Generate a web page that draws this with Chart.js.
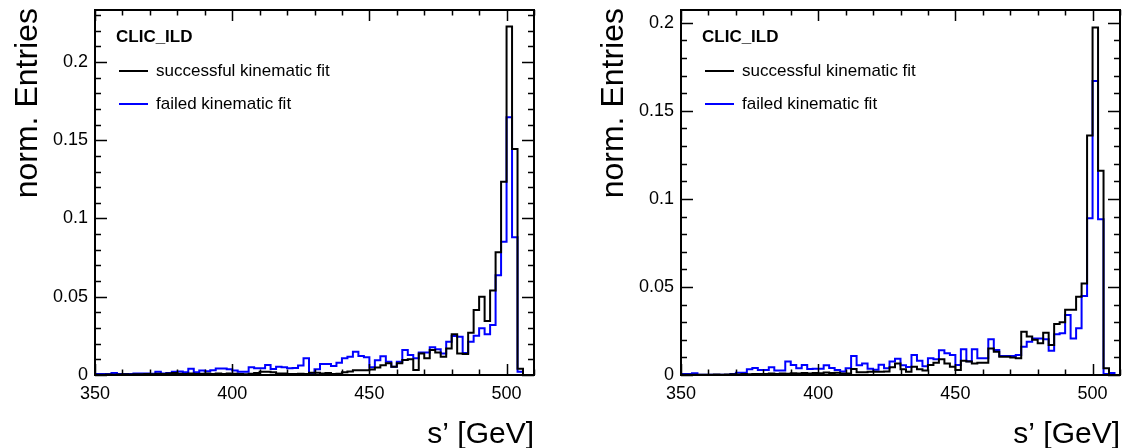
<!DOCTYPE html>
<html>
<head>
<meta charset="UTF-8" />
<title>s' distributions • CLIC_ILD</title>
<script src="https://cdn.jsdelivr.net/npm/chart.js@4"></script>
<style>
  body { margin: 0; background: #fff; }
  .panel { position: absolute; top: 0; width: 562px; height: 448px; }
</style>
</head>
<body>
<div class="panel" style="left:0"><canvas id="left" width="562" height="448"></canvas></div>
<div class="panel" style="left:562px"><canvas id="right" width="562" height="448"></canvas></div>

<script>
// binning: 80 bins of 2 GeV from 350 to 510
const xMin = 350, xMax = 510, binWidth = 2;
const xTicks = [350, 400, 450, 500];
const yTicks = [0, 0.05, 0.1, 0.15, 0.2];
const seriesNames = ['successful kinematic fit', 'failed kinematic fit'];
const seriesColors = ['#000000', '#0000ff'];

const leftSuccessful = [
  0.0002, 0.0002, 0.0003, 0.0002, 0.0003, 0.0004, 0.0003, 0.0005, 0.0004, 0.0006,
  0.0005, 0.0008, 0.0006, 0.0010, 0.0012, 0.0008, 0.0007, 0.0009, 0.0006, 0.0008,
  0.0010, 0.0007, 0.0009, 0.0006, 0.0010, 0.0008, 0.0006, 0.0005, 0.0008, 0.0012,
  0.0020, 0.0020, 0.0017, 0.0010, 0.0010, 0.0006, 0.0006, 0.0008, 0.0006, 0.0015,
  0.0015, 0.0010, 0.0012, 0.0006, 0.0008, 0.0018, 0.0022, 0.0030, 0.0030, 0.0030,
  0.0035, 0.0048, 0.0062, 0.0075, 0.0053, 0.0075, 0.0096, 0.0100, 0.0032, 0.0138,
  0.0107, 0.0160, 0.0143, 0.0117, 0.0170, 0.0260, 0.0138, 0.0134, 0.0270, 0.0415,
  0.0500, 0.0345, 0.0540, 0.0784, 0.1235, 0.2226, 0.1444, 0.0040, 0, 0
];
const leftFailed = [
  0.0006, 0.0006, 0.0006, 0.0013, 0.0006, 0.0006, 0.0006, 0.0010, 0.0010, 0.0010,
  0.0008, 0.0020, 0.0010, 0.0013, 0.0020, 0.0022, 0.0018, 0.0040, 0.0018, 0.0028,
  0.0024, 0.0030, 0.0042, 0.0042, 0.0036, 0.0028, 0.0020, 0.0021, 0.0049, 0.0043,
  0.0043, 0.0064, 0.0038, 0.0053, 0.0049, 0.0043, 0.0045, 0.0060, 0.0107, 0.0012,
  0.0036, 0.0070, 0.0070, 0.0058, 0.0079, 0.0107, 0.0117, 0.0149, 0.0121, 0.0113,
  0.0050, 0.0095, 0.0120, 0.0085, 0.0053, 0.0085, 0.0160, 0.0128, 0.0107, 0.0143,
  0.0143, 0.0177, 0.0164, 0.0138, 0.0213, 0.0249, 0.0245, 0.0140, 0.0213, 0.0250,
  0.0298, 0.0260, 0.0320, 0.0637, 0.0852, 0.1646, 0.0880, 0.0020, 0, 0
];
const rightSuccessful = [
  0.0002, 0.0001, 0.0002, 0.0001, 0.0002, 0.0002, 0.0003, 0.0002, 0.0003, 0.0004,
  0.0003, 0.0005, 0.0004, 0.0006, 0.0005, 0.0006, 0.0008, 0.0006, 0.0009, 0.0007,
  0.0010, 0.0008, 0.0012, 0.0009, 0.0012, 0.0010, 0.0014, 0.0011, 0.0013, 0.0009,
  0.0008, 0.0034, 0.0015, 0.0015, 0.0019, 0.0019, 0.0019, 0.0020, 0.0044, 0.0066,
  0.0032, 0.0019, 0.0047, 0.0032, 0.0025, 0.0057, 0.0070, 0.0089, 0.0066, 0.0047,
  0.0028, 0.0081, 0.0076, 0.0066, 0.0070, 0.0070, 0.0151, 0.0132, 0.0104, 0.0104,
  0.0100, 0.0095, 0.0246, 0.0218, 0.0200, 0.0180, 0.0240, 0.0170, 0.0290, 0.0300,
  0.0370, 0.0370, 0.0445, 0.0520, 0.1360, 0.1974, 0.1160, 0.0038, 0, 0
];
const rightFailed = [
  0.0006, 0.0006, 0.0010, 0.0002, 0.0002, 0.0002, 0.0002, 0.0002, 0.0002, 0.0006,
  0.0013, 0.0013, 0.0032, 0.0040, 0.0028, 0.0028, 0.0044, 0.0025, 0.0025, 0.0076,
  0.0057, 0.0038, 0.0057, 0.0034, 0.0036, 0.0036, 0.0055, 0.0040, 0.0028, 0.0020,
  0.0038, 0.0108, 0.0055, 0.0066, 0.0035, 0.0030, 0.0058, 0.0038, 0.0076, 0.0092,
  0.0055, 0.0045, 0.0114, 0.0081, 0.0050, 0.0095, 0.0090, 0.0140, 0.0123, 0.0114,
  0.0057, 0.0146, 0.0078, 0.0146, 0.0095, 0.0095, 0.0203, 0.0142, 0.0108, 0.0108,
  0.0108, 0.0114, 0.0161, 0.0189, 0.0208, 0.0208, 0.0203, 0.0138, 0.0231, 0.0237,
  0.0341, 0.0208, 0.0265, 0.0449, 0.0890, 0.1670, 0.0884, 0.0005, 0.0012, 0
];

const FONT = '"Liberation Sans", Arial, Helvetica, sans-serif';

// points at the low edge of every bin, plus the upper edge of the last one
function histPoints(values) {
  const pts = values.map((v, i) => ({ x: xMin + i * binWidth, y: v }));
  pts.push({ x: xMin + values.length * binWidth, y: values[values.length - 1] });
  return pts;
}

// ROOT-like frame: inward ticks on all four sides, legend and axis titles
const rootStyle = {
  id: 'rootStyle',
  afterDraw(chart, args, opts) {
    const { ctx, chartArea: a, scales: { x, y } } = chart;
    ctx.save();
    ctx.strokeStyle = '#000';
    ctx.lineWidth = 1.5;
    ctx.beginPath();
    for (let v = xMin; v <= xMax; v += 10) {
      const px = Math.round(x.getPixelForValue(v)) + 0.5;
      const len = v % 50 === 0 ? 11 : 5.5;
      ctx.moveTo(px, a.bottom); ctx.lineTo(px, a.bottom - len);
      ctx.moveTo(px, a.top); ctx.lineTo(px, a.top + len);
    }
    for (let k = 0; k * 0.01 <= y.max + 1e-9; k++) {
      const py = Math.round(y.getPixelForValue(k * 0.01)) + 0.5;
      const len = k % 5 === 0 ? 12 : 6;
      ctx.moveTo(a.left, py); ctx.lineTo(a.left + len, py);
      ctx.moveTo(a.right, py); ctx.lineTo(a.right - len, py);
    }
    ctx.stroke();

    ctx.lineWidth = 2;
    ctx.strokeRect(a.left, a.top, a.right - a.left, a.bottom - a.top);

    // legend
    ctx.fillStyle = '#000';
    ctx.textBaseline = 'middle';
    ctx.textAlign = 'left';
    ctx.font = 'bold 17px ' + FONT;
    ctx.fillText('CLIC_ILD', a.left + 21, 37);
    ctx.font = '17px ' + FONT;
    seriesNames.forEach((name, i) => {
      const ly = 71 + i * 33;
      ctx.strokeStyle = seriesColors[i];
      ctx.lineWidth = 2;
      ctx.beginPath();
      ctx.moveTo(a.left + 24, ly); ctx.lineTo(a.left + 53, ly);
      ctx.stroke();
      ctx.fillText(name, a.left + 61, ly);
    });

    // axis titles
    ctx.font = '30px ' + FONT;
    ctx.textAlign = 'right';
    ctx.textBaseline = 'alphabetic';
    ctx.fillText('s\u2019 [GeV]', a.right, 443);
    ctx.font = '32px ' + FONT;
    ctx.translate(opts.yTitleX, a.top - 2);
    ctx.rotate(-Math.PI / 2);
    ctx.textBaseline = 'middle';
    ctx.fillText('norm. Entries', 0, 0);
    ctx.restore();
  }
};

function makePanel(id, successful, failed, yMax, yAxisWidth, padRight, yTitleX) {
  return new Chart(id, {
    type: 'line',
    data: {
      datasets: [
        { data: histPoints(successful), borderColor: seriesColors[0] },
        { data: histPoints(failed), borderColor: seriesColors[1] }
      ]
    },
    plugins: [rootStyle],
    options: {
      responsive: false,
      animation: false,
      parsing: false,
      layout: { padding: { left: 0, right: padRight, top: 10, bottom: 0 } },
      elements: {
        line: { stepped: true, borderWidth: 2, fill: false, tension: 0 },
        point: { radius: 0 }
      },
      plugins: {
        legend: { display: false },
        tooltip: { enabled: false },
        rootStyle: { yTitleX: yTitleX }
      },
      scales: {
        x: {
          type: 'linear',
          min: xMin,
          max: xMax,
          grid: { display: false, drawTicks: false },
          border: { display: false },
          afterBuildTicks: s => { s.ticks = xTicks.map(v => ({ value: v })); },
          afterFit: s => { s.height = 73; s.paddingLeft = 0; s.paddingRight = 0; },
          ticks: { color: '#000', font: { family: FONT, size: 18 }, padding: 8, maxRotation: 0, autoSkip: false }
        },
        y: {
          min: 0,
          max: yMax,
          grid: { display: false, drawTicks: false },
          border: { display: false },
          afterBuildTicks: s => { s.ticks = yTicks.map(v => ({ value: v })); },
          afterFit: s => { s.width = yAxisWidth; s.paddingTop = 0; s.paddingBottom = 0; },
          ticks: { color: '#000', font: { family: FONT, size: 18 }, padding: 7, callback: v => String(v) }
        }
      }
    }
  });
}

makePanel('left', leftSuccessful, leftFailed, 0.2332, 95, 28, 28);
makePanel('right', rightSuccessful, rightFailed, 0.2073, 119, 4, 52);
</script>
</body>
</html>
